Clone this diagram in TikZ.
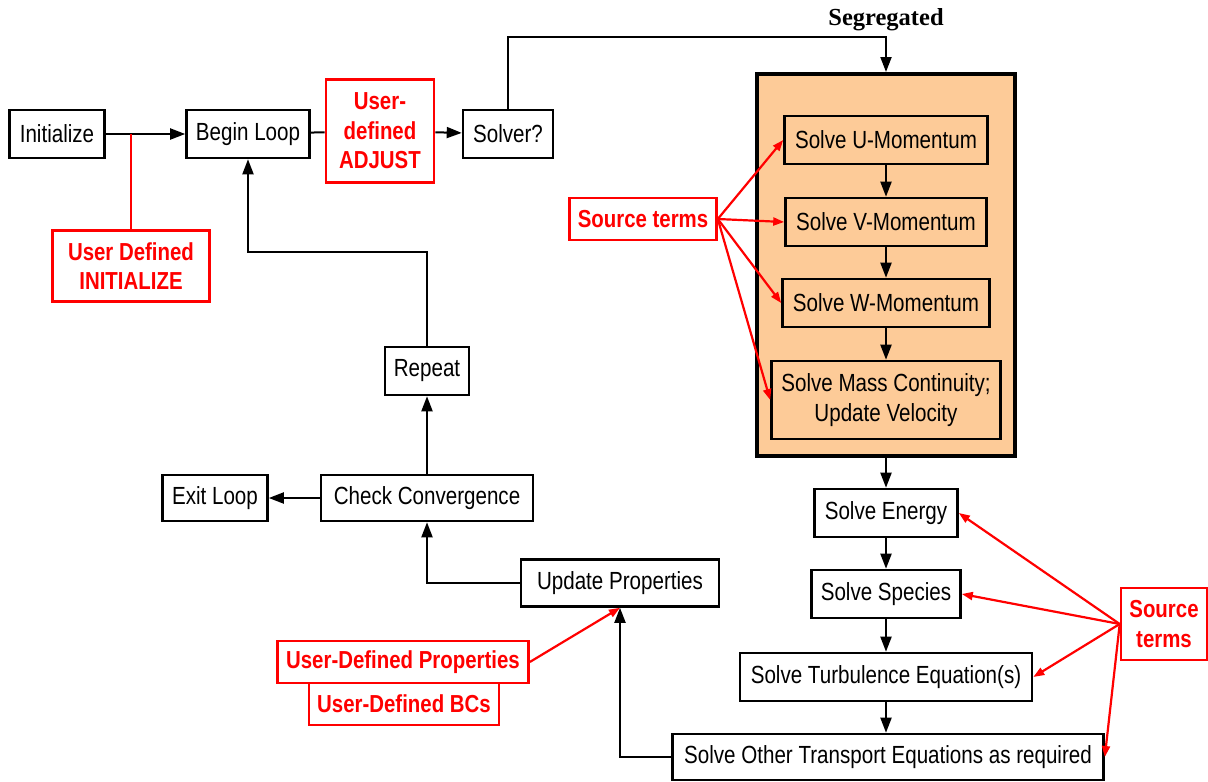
\documentclass[tikz,border=0pt]{standalone}
\usepackage{fontspec}
\setmainfont[FakeStretch=0.83]{Liberation Sans}
\newfontfamily\segfont{Liberation Serif}
\usetikzlibrary{arrows.meta,positioning}

\definecolor{udfred}{RGB}{255,0,0}
\definecolor{segfill}{RGB}{253,203,152}

\tikzset{
  every box/.style={draw, line width=2.6pt, minimum height=48pt, inner xsep=4pt,
    align=center, font=\fontsize{24.8}{29.5}\selectfont},
  udf box/.style={draw=udfred, text=udfred, line width=2.6pt, minimum height=42pt,
    inner sep=3pt, align=center, font=\fontsize{24.6}{29.5}\selectfont\bfseries},
  flow/.style={line width=2pt, -{Triangle[length=15pt,width=11pt]}},
  hook/.style={draw=udfred, line width=2.2pt, -{Triangle[length=11pt,width=8pt]}},
}

\begin{document}
\begin{tikzpicture}[x=1pt, y=-1pt]
\useasboundingbox (0,0) rectangle (1208,782);

% main loop, top row
\node [every box, minimum width=95pt] (init) at (57,134) {Initialize};
\node [every box, minimum width=123pt] (begin) at (248,134) {Begin Loop};
\node [udf box, minimum width=108pt, minimum height=103pt] (adjust) at (380,131) {User-\\defined\\ADJUST};
\node [every box, minimum width=90pt] (solver) at (508,134) {Solver?};
\node [udf box, minimum width=157pt, minimum height=71pt] (udf-init) at (131,266) {User Defined\\INITIALIZE};

% segregated block
\node [font=\segfont\bfseries\fontsize{24.5}{28}\selectfont] (seg) at (886,20) {Segregated};
\coordinate (seg-in) at (886,37);
\node [draw, fill=segfill, line width=4pt, minimum width=258pt, minimum height=382pt] (outer) at (886,265) {};

\foreach \n/\y/\w/\t in {u/140/203/U, v/222/201/V, w/303/207/W}
  \node [every box, minimum width=\w pt] (\n) at (886,\y) {Solve \t-Momentum};
\node [every box, minimum width=229pt, minimum height=78pt] (mass) at (886,400) {Solve Mass Continuity;\\Update Velocity};

\node [udf box, minimum width=147pt] (src-left) at (643,219) {Source terms};

% remaining equations
\node [every box, minimum width=143pt] (energy) at (886,513) {Solve Energy};
\node [every box, minimum width=149pt] (species) at (886,594) {Solve Species};
\node [every box, minimum width=292pt] (turb) at (886,677) {Solve Turbulence Equation(s)};
\node [every box, minimum width=431pt, minimum height=46pt] (other) at (888,757) {Solve Other Transport Equations as required};
\node [udf box, minimum width=86pt, minimum height=72pt] (src-right) at (1164,624) {Source\\terms};

% convergence part
\node [every box, minimum width=198pt, minimum height=47pt] (update) at (620,583) {Update Properties};
\node [every box, minimum width=212pt, minimum height=46pt] (check) at (427,498) {Check Convergence};
\node [every box, minimum width=105pt, minimum height=46pt] (exit) at (215,498) {Exit Loop};
\node [every box, minimum width=84pt] (repeat) at (427,371) {Repeat};
\coordinate (loop-back) at (427,252);

\node [udf box, minimum width=251pt] (props) at (403,662) {User-Defined Properties};
\node [udf box, minimum width=190pt] (bcs) at (404,704) {User-Defined BCs};

% connectors
\draw [flow] (init) -- (begin);
\draw [udfred, line width=2.2pt] (udf-init.north) -- (udf-init.north |- init.east);
\draw [line width=2pt] (begin) -- (adjust);
\draw [flow] (adjust) -- (solver);
\draw [flow] (solver.north) |- (seg-in) -- (outer.north);

\draw [flow] (u) -- (v);
\draw [flow] (v) -- (w);
\draw [flow] (w) -- (mass);
\draw [flow] (outer.south) -- (energy);
\draw [flow] (energy) -- (species);
\draw [flow] (species) -- (turb);
\draw [flow] (turb) -- (other.north -| turb.south);

\draw [flow] (other.west) -| (update.south);
\draw [flow] (update.west) -| (check.south);
\draw [flow] (check) -- (exit);
\draw [flow] (check) -- (repeat);
\draw [flow] (repeat.north) -- (loop-back) -| (begin.south);

\foreach \t in {u,v,w,mass}
  \draw [hook] (src-left.east) -- (\t.west);
\foreach \t in {energy,species,turb,other}
  \draw [hook] (src-right.west) -- (\t.east);
\draw [hook] (props.east) -- (update.south);

\end{tikzpicture}
\end{document}
